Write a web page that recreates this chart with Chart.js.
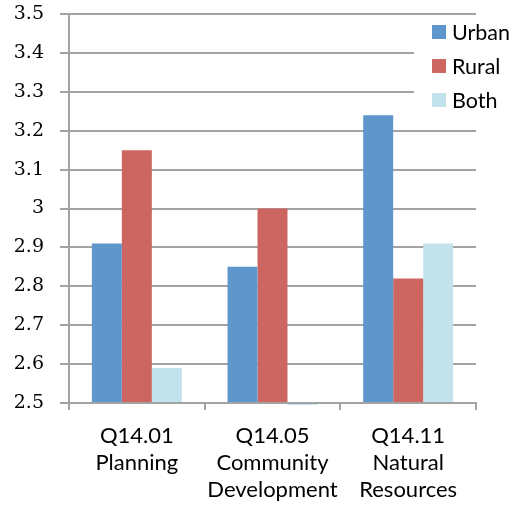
<!DOCTYPE html>
<html>
<head>
<meta charset="utf-8">
<script src="https://cdn.jsdelivr.net/npm/chart.js@4/dist/chart.umd.min.js"></script>
<style>
  html, body { margin: 0; padding: 0; background: #ffffff; }
  #wrap { width: 513px; height: 508px; position: relative; }
</style>
</head>
<body>
<div id="wrap"><canvas id="c" width="513" height="508"></canvas></div>
<script>
const categories = [
  ["Q14.01", "Planning"],
  ["Q14.05", "Community", "Development"],
  ["Q14.11", "Natural", "Resources"]
];
const seriesNames = ["Urban", "Rural", "Both"];
const urbanValues = [2.91, 2.85, 3.24];
const ruralValues = [3.15, 3.00, 2.82];
const bothValues = [2.59, 2.495, 2.91];
const yTickValues = [2.5, 2.6, 2.7, 2.8, 2.9, 3.0, 3.1, 3.2, 3.3, 3.4, 3.5];
const yTickLabels = ["2.5", "2.6", "2.7", "2.8", "2.9", "3", "3.1", "3.2", "3.3", "3.4", "3.5"];

const colors = ["#5f96cb", "#cd6661", "#c3e3ec"];
const gridColor = "#a3a3a3";

const legendPlugin = {
  id: 'overlayLegend',
  beforeDatasetsDraw(chart) {
    const ctx = chart.ctx;
    ctx.save();
    ctx.fillStyle = '#ffffff';
    ctx.fillRect(414, chart.chartArea.top + 3, 99, 94);
    ctx.restore();
  },
  afterDraw(chart) {
    const ctx = chart.ctx;
    ctx.save();
    ctx.font = '21.5px Lato';
    ctx.textBaseline = 'middle';
    ctx.textAlign = 'left';
    chart.data.datasets.forEach((ds, i) => {
      const cy = 32 + i * 34;
      ctx.fillStyle = ds.backgroundColor;
      ctx.fillRect(432, cy - 7, 14, 14);
      ctx.fillStyle = '#000000';
      ctx.fillText(ds.label, 452, cy + 1);
    });
    ctx.restore();
  }
};

function noPad(axis) {
  axis.paddingTop = 0;
  axis.paddingBottom = 0;
  axis.paddingLeft = 0;
  axis.paddingRight = 0;
}

new Chart(document.getElementById('c'), {
  type: 'bar',
  data: {
    labels: categories,
    datasets: [
      { label: seriesNames[0], data: urbanValues, backgroundColor: colors[0] },
      { label: seriesNames[1], data: ruralValues, backgroundColor: colors[1] },
      { label: seriesNames[2], data: bothValues, backgroundColor: colors[2], clip: { left: 0, top: 0, right: 0, bottom: 3 } }
    ]
  },
  options: {
    responsive: false,
    animation: false,
    devicePixelRatio: 1,
    layout: { padding: { top: 14, right: 37, left: 0, bottom: 0 } },
    datasets: { bar: { categoryPercentage: 0.663, barPercentage: 1.0, borderWidth: 0, base: 2.5 } },
    plugins: {
      legend: { display: false },
      tooltip: { enabled: false }
    },
    scales: {
      x: {
        grid: { display: true, drawOnChartArea: false, drawTicks: true, tickLength: 7, color: gridColor, lineWidth: 2, offset: true },
        border: { display: true, color: gridColor, width: 2 },
        ticks: {
          color: '#000000',
          font: { family: 'Lato', size: 22, lineHeight: 1.23 },
          padding: 12,
          maxRotation: 0,
          autoSkip: false
        },
        afterFit(axis) { axis.height = 105; noPad(axis); }
      },
      y: {
        min: 2.5,
        max: 3.5,
        afterBuildTicks(axis) { axis.ticks = yTickValues.map(v => ({ value: v })); },
        afterFit(axis) { axis.width = 69; noPad(axis); },
        grid: { color: gridColor, lineWidth: 2, drawTicks: true, tickLength: 9 },
        border: { display: true, color: gridColor, width: 2 },
        ticks: {
          color: '#000000',
          font: { family: 'DejaVu Serif', size: 19 },
          padding: 16,
          callback: (value, index) => yTickLabels[yTickValues.indexOf(Math.round(value * 10) / 10)]
        }
      }
    }
  },
  plugins: [legendPlugin]
});
</script>
</body>
</html>
